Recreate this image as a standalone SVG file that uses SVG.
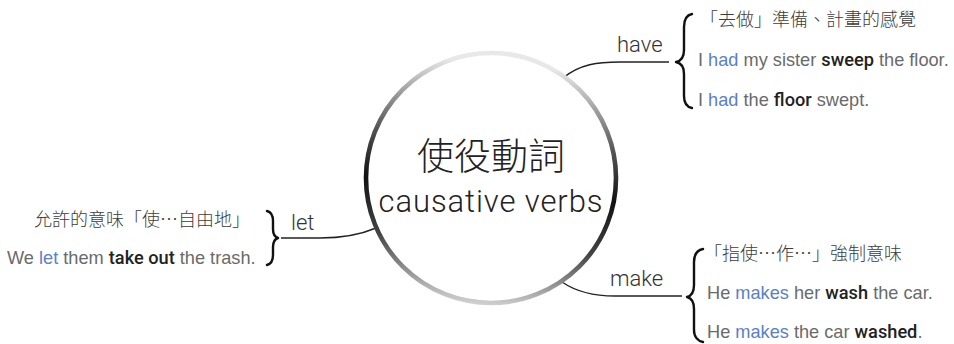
<svg xmlns="http://www.w3.org/2000/svg" width="954" height="344" viewBox="0 0 954 344">
<style>
.en{font-family:"Liberation Sans",Arial,sans-serif;font-size:18.2px;fill:#6a6a6a}
.zh{font-family:"Noto Sans CJK TC","Noto Sans CJK SC",sans-serif;font-weight:300;font-size:18px;fill:#3c3c3c}
.b{font-family:Roboto,"Liberation Sans",sans-serif;font-weight:500;fill:#222}
.hl{fill:#5b7fc7}
.lbl{font-family:Roboto,"Liberation Sans",sans-serif;font-weight:300;font-size:22px;fill:#333}
.con{fill:none;stroke:#222;stroke-width:1.4}
.brace{fill:none;stroke:#111;stroke-width:2.4;stroke-linecap:round;stroke-linejoin:round}
</style>
<defs>
<linearGradient id="ring" x1="0.1" y1="0" x2="0" y2="1">
<stop offset="0" stop-color="#e8e8e8"/>
<stop offset="0.3" stop-color="#555"/>
<stop offset="0.5" stop-color="#111"/>
<stop offset="0.72" stop-color="#444"/>
<stop offset="1" stop-color="#e8e8e8"/>
</linearGradient>
</defs>
<g id="connectors">
<path class="con" d="M 563 78 C 580 64, 598 62, 620 62 L 669 62"/>
<path class="con" d="M 281 238 L 320 238 C 345 238, 362 234, 376 228"/>
<path class="con" d="M 562 282 C 578 293, 595 296, 615 296 L 682 296"/>
</g>
<g id="center">
<circle cx="491" cy="178" r="125" fill="#fff" stroke="url(#ring)" stroke-width="4.6"/>
<text x="491" y="170" text-anchor="middle" font-family="'Noto Sans CJK TC','Noto Sans CJK SC',sans-serif" font-weight="300" font-size="37" fill="#222">使役動詞</text>
<text x="491" y="212" text-anchor="middle" font-family="Roboto,'Liberation Sans',sans-serif" font-weight="300" font-size="31" letter-spacing="0.9" fill="#222">causative verbs</text>
</g>
<g id="have">
<text class="lbl" x="617" y="52">have</text>
<path class="brace" d="M 692 14 C 687 15, 684 19, 684 27 L 684 50 C 684 57, 681 61, 676 62 C 681 63, 684 67, 684 74 L 684 96 C 684 103, 687 107, 692 108"/>
<text class="zh" x="700" y="26">「去做」準備、計畫的感覺</text>
<text class="en" x="698" y="66">I <tspan class="hl">had</tspan> my sister <tspan class="b">sweep</tspan> the floor.</text>
<text class="en" x="698" y="106">I <tspan class="hl">had</tspan> the <tspan class="b">floor</tspan> swept.</text>
</g>
<g id="let">
<text class="lbl" x="291" y="230">let</text>
<path class="brace" d="M 267 211 C 271 212, 273 215, 273 221 L 273 229 C 273 234, 275 237, 278 238 C 275 239, 273 242, 273 247 L 273 255 C 273 261, 271 264, 267 265"/>
<text class="zh" x="34" y="226">允許的意味「使…自由地」</text>
<text class="en" x="7" y="264">We <tspan class="hl">let</tspan> them <tspan class="b">take out</tspan> the trash.</text>
</g>
<g id="make">
<text class="lbl" x="610" y="286">make</text>
<path class="brace" d="M 703 249 C 698 250, 694 254, 694 262 L 694 285 C 694 292, 691 296, 687 297 C 691 298, 694 302, 694 309 L 694 330 C 694 337, 698 341, 703 342"/>
<text class="zh" x="704" y="260">「指使…作…」強制意味</text>
<text class="en" x="707" y="299">He <tspan class="hl">makes</tspan> her <tspan class="b">wash</tspan> the car.</text>
<text class="en" x="707" y="338">He <tspan class="hl">makes</tspan> the car <tspan class="b">washed</tspan>.</text>
</g>
</svg>
